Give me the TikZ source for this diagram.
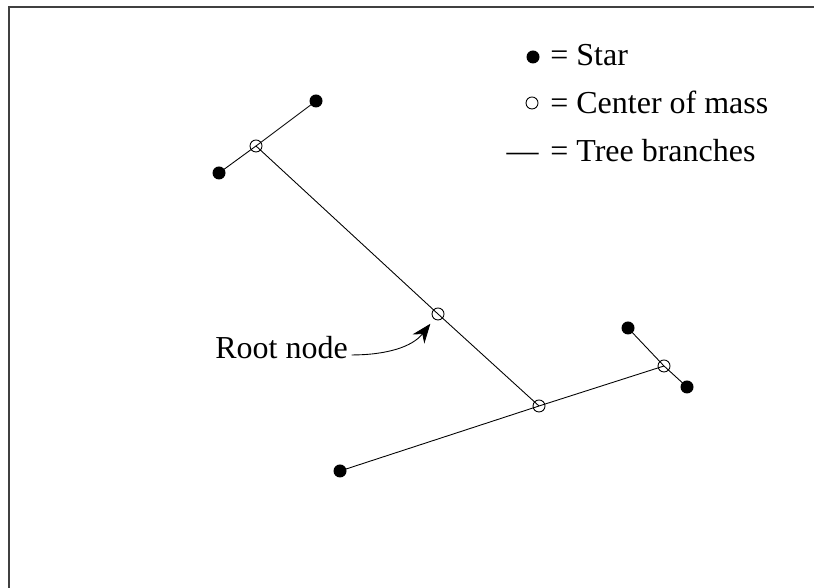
\documentclass[tikz,border=0pt]{standalone}
\usepackage{fontspec}
\setmainfont{Liberation Serif}
\usepackage{amsmath}
\usepackage{amssymb}
\usetikzlibrary{arrows.meta}

\tikzset{
  star/.style={circle, fill, inner sep=0pt, minimum size=0.26cm},
  com/.style={circle, draw, inner sep=0pt, minimum size=0.24cm, line width=0.5pt},
  branch/.style={line width=0.5pt},
  legend/.style={inner sep=0pt}
}

\begin{document}
\begin{tikzpicture}[font=\fontsize{18.2}{22}\selectfont]
            \clip (0,0) rectangle (16.28,11.76);
            \draw[black!75, line width=0.8pt] (0.18,-1) rectangle (17,11.62);

            \node[star] (s1) at (6.32, 9.74) {};
            \node[star] (s2) at (4.38, 8.30) {};
            \node[com] (c1) at (5.12, 8.84) {};
            \node[com] (c2) at (8.76, 5.48) {};
            \node[com] (c3) at (10.78, 3.64) {};
            \node[star] (s3) at (6.80, 2.34) {};
            \node[com] (c4) at (13.28, 4.44) {};
            \node[star] (s4) at (12.56, 5.20) {};
            \node[star] (s5) at (13.74, 4.02) {};

            \draw[branch] (s1.center) -- (c1.center) -- (s2.center);
            \draw[branch] (c1.center) -- (c2.center) -- (c3.center);
            \draw[branch] (s3.center) -- (c3.center) -- (c4.center);
            \draw[branch] (s4.center) -- (c4.center) -- (s5.center);

            \node[anchor=base west, inner sep=2pt] (rl) at (4.23, 4.58) {Root node};
            \draw[branch, -{Stealth[length=11pt, width=8.5pt]}, shorten >=0.12cm]
                (rl.mid east) to[out=0, in=-128] (c2);

            % legend
            \node[star] (k1) at (10.66, 10.62) {};
            \node[legend, anchor=base west] (t1) at (11.00, 10.44) {= Star};
            \node[com] (k2) at (10.64, 9.70) {};
            \node[legend, anchor=base west] (t2) at (11.00, 9.48) {= Center of mass};
            \node[legend, anchor=base east] (k3) at (10.78, 8.52) {---};
            \node[legend, anchor=base west] (t3) at (11.00, 8.52) {= Tree branches};
        \end{tikzpicture}
\end{document}
